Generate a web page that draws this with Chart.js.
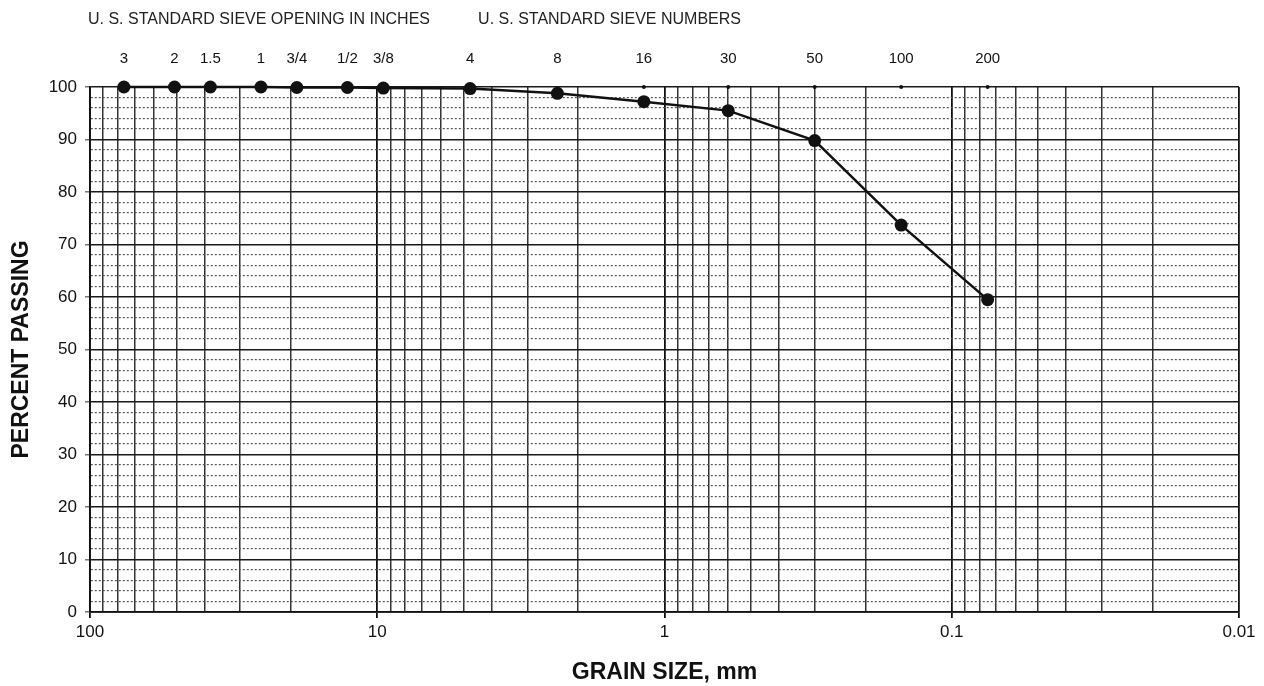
<!DOCTYPE html>
<html>
<head>
<meta charset="utf-8">
<script src="https://cdn.jsdelivr.net/npm/chart.js@4.4.1/dist/chart.umd.min.js"></script>
<style>
  html, body { margin: 0; padding: 0; background: #fff; }
  #wrap { width: 1264px; height: 686px; position: relative; }
</style>
</head>
<body>
<div id="wrap"><canvas id="c"></canvas></div>
<script>
// ---- data ----
const sieveLabels   = ['3', '2', '1.5', '1', '3/4', '1/2', '3/8', '4', '8', '16', '30', '50', '100', '200'];
const grainSizeMm   = [76.2, 50.8, 38.1, 25.4, 19.05, 12.7, 9.525, 4.75, 2.36, 1.18, 0.6, 0.3, 0.15, 0.075];
const percentPassing = [100, 100, 100, 100, 99.9, 99.9, 99.8, 99.7, 98.8, 97.2, 95.5, 89.8, 73.7, 59.5];
const markerSizesMm = [1.18, 0.6, 0.3, 0.15, 0.075];
const markerPercent = [100, 100, 100, 100, 100];
const xTickLabels = [100, 10, 1, 0.1, 0.01];
const yTickLabels = [0, 10, 20, 30, 40, 50, 60, 70, 80, 90, 100];
const headerLeft  = 'U. S. STANDARD SIEVE OPENING IN INCHES';
const headerRight = 'U. S. STANDARD SIEVE NUMBERS';
const xTitle = 'GRAIN SIZE, mm';
const yTitle = 'PERCENT PASSING';

// grid values (log subdivisions, every 2 %)
const xGrid = [];
[0.01, 0.1, 1, 10].forEach(d => { for (let k = 1; k <= 9; k++) xGrid.push(+(d * k).toPrecision(3)); });
xGrid.push(100);
const yGrid = [];
for (let v = 0; v <= 100; v += 2) yGrid.push(v);

const isDecade = v => xTickLabels.some(t => Math.abs(t - v) < t * 1e-6);
const FONT = '"Liberation Sans", Arial, Helvetica, sans-serif';

const headerPlugin = {
  id: 'header',
  afterDraw(chart) {
    const ctx = chart.ctx;
    ctx.save();
    ctx.font = '16px ' + FONT;
    ctx.fillStyle = '#222';
    ctx.textBaseline = 'middle';
    ctx.textAlign = 'left';
    ctx.fillText(headerLeft, chart.chartArea.left - 2, 20);
    const xs = chart.scales.xTop.getPixelForValue(grainSizeMm[7]);
    ctx.fillText(headerRight, xs + 8, 20);
    ctx.restore();
  }
};

new Chart(document.getElementById('c'), {
  type: 'scatter',
  data: {
    datasets: [
      {
        label: 'Gradation',
        data: grainSizeMm.map((x, i) => ({ x: x, y: percentPassing[i] })),
        showLine: true,
        borderColor: '#111',
        borderWidth: 2.5,
        pointRadius: 6.5,
        pointBackgroundColor: '#111',
        pointBorderColor: '#111',
        pointBorderWidth: 0,
        clip: false,
        xAxisID: 'x', yAxisID: 'y'
      },
      {
        label: 'Sieve marks',
        data: markerSizesMm.map((x, i) => ({ x: x, y: markerPercent[i] })),
        showLine: false,
        pointRadius: 2,
        pointBackgroundColor: '#111',
        pointBorderWidth: 0,
        clip: false,
        xAxisID: 'x', yAxisID: 'y'
      }
    ]
  },
  options: {
    responsive: true,
    maintainAspectRatio: false,
    animation: false,
    layout: { padding: { left: 0, right: 25, top: 0, bottom: 0 } },
    plugins: { legend: { display: false }, tooltip: { enabled: false }, title: { display: false } },
    scales: {
      x: {
        type: 'logarithmic', reverse: true, min: 0.01, max: 100, position: 'bottom',
        afterBuildTicks: s => { s.ticks = xGrid.map(v => ({ value: v })); },
        afterFit: s => { s.height = 74; },
        ticks: {
          autoSkip: false, maxRotation: 0, minRotation: 0, padding: 4,
          color: '#111', font: { family: FONT, size: 17 },
          callback: v => isDecade(v) ? String(v) : ''
        },
        grid: {
          color: c => (c.tick && isDecade(c.tick.value)) ? '#111' : '#333',
          lineWidth: c => (c.tick && isDecade(c.tick.value)) ? 1.8 : 1.5,
          tickLength: 6,
          tickColor: c => (c.tick && isDecade(c.tick.value)) ? '#111' : 'rgba(0,0,0,0)'
        },
        border: { color: '#111', width: 1.8 },
        title: { display: true, text: xTitle, color: '#111', font: { family: FONT, size: 23, weight: 'bold' }, padding: { top: 0, bottom: 0 } }
      },
      xTop: {
        type: 'logarithmic', reverse: true, min: 0.01, max: 100, position: 'top',
        afterBuildTicks: s => { s.ticks = grainSizeMm.map(v => ({ value: v })); },
        afterFit: s => { s.height = 87; },
        ticks: {
          autoSkip: false, maxRotation: 0, minRotation: 0, padding: 19,
          color: '#111', font: { family: FONT, size: 15 },
          callback: (v, i) => sieveLabels[i]
        },
        grid: { drawOnChartArea: false, drawTicks: false },
        border: { display: false }
      },
      y: {
        min: 0, max: 100, position: 'left',
        afterBuildTicks: s => { s.ticks = yGrid.map(v => ({ value: v })); },
        afterFit: s => { s.width = 90; },
        ticks: {
          autoSkip: false, padding: 8, color: '#111', font: { family: FONT, size: 17 },
          callback: v => yTickLabels.includes(v) ? String(v) : ''
        },
        grid: {
          color: c => (c.tick && c.tick.value % 10 === 0) ? '#1a1a1a' : '#555',
          lineWidth: c => (c.tick && c.tick.value % 10 === 0) ? 1.5 : 1.2,
          tickLength: 5,
          tickColor: c => (c.tick && c.tick.value % 10 === 0) ? '#777' : 'rgba(0,0,0,0)'
        },
        border: {
          color: '#111', width: 1.8,
          dash: c => (c && c.tick && c.tick.value % 10 !== 0) ? [2, 2] : []
        },
        title: { display: true, text: yTitle, color: '#111', font: { family: FONT, size: 23, weight: 'bold' }, padding: { top: 8, bottom: 0 } }
      }
    }
  },
  plugins: [headerPlugin]
});
</script>
</body>
</html>
